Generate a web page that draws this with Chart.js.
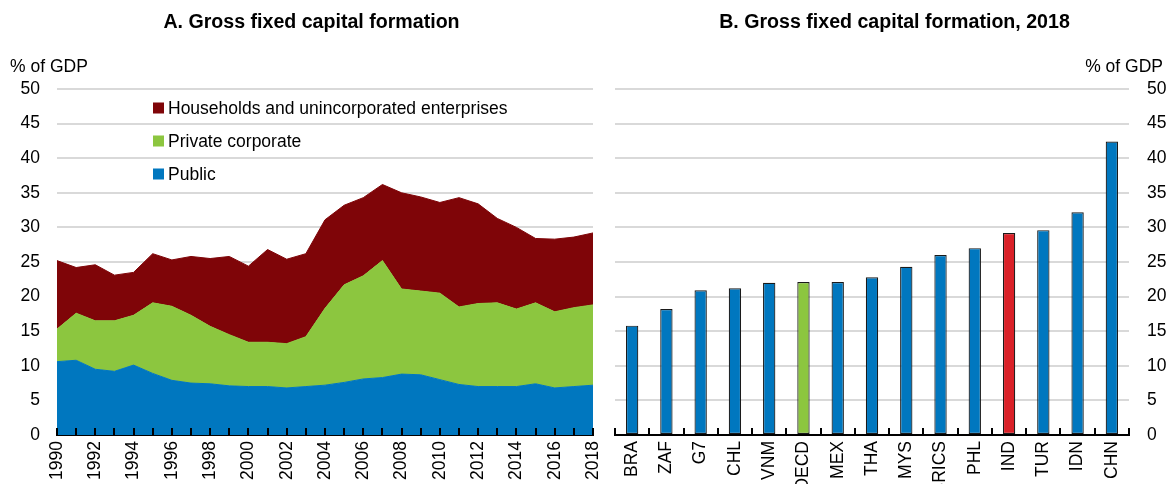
<!DOCTYPE html>
<html><head><meta charset="utf-8">
<script src="https://cdn.jsdelivr.net/npm/chart.js@4.4.1/dist/chart.umd.min.js"></script>
<style>
html,body{margin:0;padding:0;background:#fff;overflow:hidden;width:1171px;height:484px;}
#c1{position:absolute;left:0;top:0;}
#c2{position:absolute;left:600px;top:0;}
</style></head><body>
<canvas id="c1" width="622" height="484"></canvas>
<canvas id="c2" width="571" height="484"></canvas>
<script>
// ---- Panel A data (% of GDP) ----
const years = ['1990','1991','1992','1993','1994','1995','1996','1997','1998','1999','2000','2001','2002','2003','2004','2005','2006','2007','2008','2009','2010','2011','2012','2013','2014','2015','2016','2017','2018'];
const publicGfcf   = [10.6,10.8,9.5,9.2,10.1,8.9,7.9,7.5,7.4,7.1,7.0,7.0,6.8,7.0,7.2,7.6,8.1,8.3,8.8,8.7,8.0,7.3,7.0,7.0,7.0,7.4,6.8,7.0,7.2];
const privateCorp  = [4.7,6.8,7.0,7.3,7.2,10.2,10.7,9.8,8.3,7.4,6.4,6.4,6.4,7.2,11.1,14.1,14.9,16.9,12.3,12.1,12.5,11.2,12.0,12.1,11.2,11.7,11.0,11.4,11.6];
const households   = [9.9,6.6,8.1,6.6,6.2,7.1,6.7,8.5,9.8,11.3,11.0,13.4,12.2,12.0,12.8,11.5,11.3,11.0,13.9,13.6,13.1,15.8,14.4,12.2,11.8,9.3,10.5,10.2,10.4];

// ---- Panel B data (% of GDP, 2018) ----
const countries = ['BRA','ZAF','G7','CHL','VNM','OECD','MEX','THA','MYS','BRICS','PHL','IND','TUR','IDN','CHN'];
const gfcf2018  = [15.8,18.2,20.9,21.2,22.0,22.1,22.1,22.8,24.3,26.0,27.0,29.2,29.6,32.2,42.4];

// y-axis ticks
const yMin = 0, yMax = 50, yStep = 5;
const unitText = '% of GDP';

const FONT = "'Liberation Sans',Arial,sans-serif";
const FS = 17.5;
const BLUE = '#0077bf', GREEN = '#8cc63f', DARKRED = '#7f0508', RED = '#da2128';
const GRID = '#d9d9d9';

Chart.defaults.font.family = FONT;
Chart.defaults.font.size = FS;
Chart.defaults.color = '#000';

// Panel headings: bold title + unit label
const headings = {
  id: 'headings',
  afterDraw(chart, args, opts) {
    const ctx = chart.ctx;
    ctx.save();
    ctx.fillStyle = '#000';
    ctx.textBaseline = 'middle';
    ctx.font = 'bold 19.6px ' + FONT;
    ctx.textAlign = 'center';
    ctx.fillText(opts.title, opts.titleX, 23);
    ctx.font = FS + 'px ' + FONT;
    ctx.textAlign = opts.unitAlign;
    ctx.fillText(unitText, opts.unitX, 67);
    ctx.restore();
  }
};

const legendPlugin = {
  id: 'inlegend',
  afterDatasetsDraw(chart) {
    const {ctx, chartArea} = chart;
    const ds = chart.data.datasets.slice().reverse();
    ctx.save();
    ctx.font = FS + 'px ' + FONT;
    ctx.textBaseline = 'middle';
    ds.forEach((d, i) => {
      const y = chartArea.top + 19 + i * 33;
      const x = chartArea.left + 96;
      ctx.fillStyle = d.backgroundColor;
      ctx.fillRect(x, y - 5.5, 11, 11);
      ctx.fillStyle = '#000';
      ctx.fillText(d.label, x + 15, y + 1);
    });
    ctx.restore();
  }
};

const innerTicksPoints = {
  id: 'innerTicksPoints',
  afterDraw(chart) {
    const s = chart.scales.x, ctx = chart.ctx;
    ctx.save();
    ctx.strokeStyle = '#000'; ctx.lineWidth = 2;
    ctx.beginPath();
    for (let i = 0; i < chart.data.labels.length; i++) {
      const x = Math.round(s.getPixelForValue(i));
      ctx.moveTo(x, s.top); ctx.lineTo(x, s.top - 7);
    }
    ctx.stroke();
    ctx.restore();
  }
};

const innerTicksBounds = {
  id: 'innerTicksBounds',
  afterDraw(chart) {
    const s = chart.scales.x, ctx = chart.ctx;
    const n = chart.data.labels.length;
    ctx.save();
    ctx.strokeStyle = '#000'; ctx.lineWidth = 2;
    ctx.beginPath();
    for (let i = 0; i <= n; i++) {
      const x = Math.round(s.left + i * s.width / n);
      ctx.moveTo(x, s.top); ctx.lineTo(x, s.top - 7);
    }
    ctx.stroke();
    ctx.restore();
  }
};

const areaDs = (label, data, color, fill) => ({
  label, data, backgroundColor: color, borderColor: color, borderWidth: 1,
  fill, pointRadius: 0, tension: 0
});

new Chart(document.getElementById('c1'), {
  type: 'line',
  data: {
    labels: years,
    datasets: [
      areaDs('Public', publicGfcf, BLUE, 'origin'),
      areaDs('Private corporate', privateCorp, GREEN, '-1'),
      areaDs('Households and unincorporated enterprises', households, DARKRED, '-1')
    ]
  },
  options: {
    responsive: false, animation: false, devicePixelRatio: 1,
    layout: {padding: {left: 10, right: 29, top: 89, bottom: 0}},
    plugins: {
      legend: {display: false}, tooltip: {enabled: false},
      headings: {title: 'A. Gross fixed capital formation', titleX: 311.5, unitX: 10, unitAlign: 'left'}
    },
    scales: {
      x: {
        type: 'category', offset: false, z: 1,
        grid: {display: false, drawTicks: false},
        border: {display: true, color: '#000', width: 2},
        ticks: {autoSkip: false, minRotation: 90, maxRotation: 90, padding: 6,
          callback: function (v, i) { return i % 2 === 0 ? this.getLabelForValue(v) : ''; }},
        afterFit: s => { s.height = 49; }
      },
      y: {
        stacked: true, min: yMin, max: yMax,
        ticks: {stepSize: yStep, padding: 17},
        grid: {color: GRID, lineWidth: 2, drawTicks: false},
        border: {display: false},
        afterFit: s => { s.width = 47; }
      }
    }
  },
  plugins: [headings, legendPlugin, innerTicksPoints]
});

const barColor = c => c === 'OECD' ? GREEN : (c === 'IND' ? RED : BLUE);

new Chart(document.getElementById('c2'), {
  type: 'bar',
  data: {
    labels: countries,
    datasets: [{
      data: gfcf2018, backgroundColor: countries.map(barColor),
      borderColor: '#1a1a1a', borderWidth: 1.2, borderSkipped: false,
      barPercentage: 0.36, categoryPercentage: 1
    }]
  },
  options: {
    responsive: false, animation: false, devicePixelRatio: 1,
    layout: {padding: {left: 15, right: 0, top: 89, bottom: 0}},
    plugins: {
      legend: {display: false}, tooltip: {enabled: false},
      headings: {title: 'B. Gross fixed capital formation, 2018', titleX: 294.5, unitX: 563, unitAlign: 'right'}
    },
    scales: {
      x: {
        z: 1,
        grid: {display: false, drawTicks: false},
        border: {display: true, color: '#000', width: 2},
        ticks: {autoSkip: false, minRotation: 90, maxRotation: 90, padding: 6},
        afterFit: s => { s.height = 49; }
      },
      y: {
        position: 'right', min: yMin, max: yMax,
        ticks: {stepSize: yStep, padding: 18},
        grid: {color: GRID, lineWidth: 2, drawTicks: false},
        border: {display: false},
        afterFit: s => { s.width = 42; }
      }
    }
  },
  plugins: [headings, innerTicksBounds]
});
</script>
</body></html>
